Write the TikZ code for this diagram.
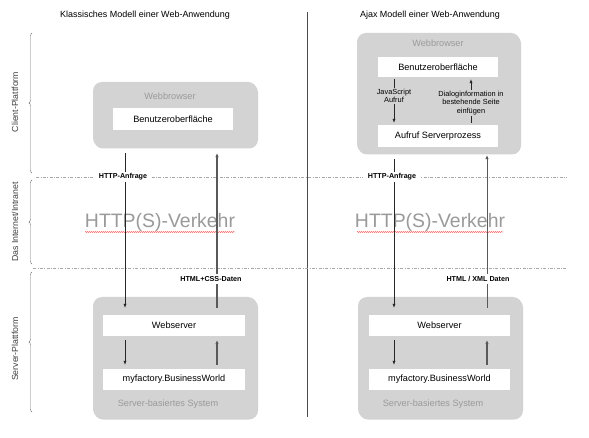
\documentclass[tikz,border=0pt]{standalone}
\usepackage{fontspec}
\setmainfont{Liberation Sans}
\usetikzlibrary{arrows.meta,shadows,decorations.pathreplacing,decorations.pathmorphing}
\definecolor{boxgray}{HTML}{D3D3D3}
\definecolor{txtgray}{HTML}{9A9A9A}
\definecolor{linegray}{HTML}{A8A8A8}
\tikzset{
  gbox/.style={draw=none,fill=boxgray,rounded corners=9bp,drop shadow={opacity=0.35,shadow xshift=1bp,shadow yshift=-1.5bp}},
  wbox/.style={fill=white,draw=none,font=\fontsize{9.2}{11}\selectfont,inner sep=0pt},
  graylbl/.style={text=txtgray,font=\fontsize{9.2}{11}\selectfont},
  smalllbl/.style={font=\fontsize{7.2}{8.5}\selectfont\bfseries,fill=white,inner sep=2bp,align=center},
  innerlbl/.style={font=\fontsize{7.4}{8.6}\selectfont,fill=boxgray,inner sep=1bp,align=center},
  arrdn/.style={draw=black!85,line width=0.6bp,-{Latex[length=4bp,width=3.2bp]}},
  arrup/.style={draw=black!65,line width=1.4bp,-{Latex[length=4bp,width=3.6bp]}},
  dashdot/.style={draw=linegray,line width=0.6bp,dash pattern=on 3bp off 1.5bp on 0.8bp off 1.5bp},
  brc/.style={draw=black!55,line width=0.4bp,decorate,decoration={brace,amplitude=3bp}},
  sidelbl/.style={rotate=90,font=\fontsize{8.8}{10}\selectfont,text=black!75},
  title/.style={font=\fontsize{9}{10}\selectfont},
  big/.style={text=txtgray,font=\fontsize{19.5}{22}\selectfont},
  wavy/.style={draw=red!80,line width=0.4bp,decorate,decoration={snake,amplitude=0.5bp,segment length=2bp}}
}
\begin{document}
\begin{tikzpicture}[x=1bp,y=-1bp]
\useasboundingbox (0,0) rectangle (589,438);
\fill[white] (0,0) rectangle (589,438);

% titles
\node[title] (t1) at (145,15) {Klassisches Modell einer Web-Anwendung};
\node[title] (t2) at (430,15) {Ajax Modell einer Web-Anwendung};

% separator
\coordinate (sepT) at (307,12);
\coordinate (sepB) at (307,417);
\draw[black!70,line width=0.7bp] (sepT) -- (sepB);

% dash-dot lines
\coordinate (d1a) at (36,177); \coordinate (d1b) at (567,177);
\coordinate (d2a) at (33,268); \coordinate (d2b) at (567,268);
\draw[dashdot] (d1a) -- (d1b);
\draw[dashdot] (d2a) -- (d2b);

% braces and side labels
\coordinate (b1a) at (32,173); \coordinate (b1b) at (32,33);
\coordinate (b2a) at (32,264); \coordinate (b2b) at (32,180);
\coordinate (b3a) at (32,412); \coordinate (b3b) at (32,272);
\draw[brc] (b1a) -- (b1b);
\draw[brc] (b2a) -- (b2b);
\draw[brc] (b3a) -- (b3b);
\node[sidelbl] (l1) at (15,102) {Client-Plattform};
\node[sidelbl] (l2) at (15,222) {Das Internet/Intranet};
\node[sidelbl] (l3) at (15,349) {Server-Plattform};

% big traffic text
\node[big] (h1) at (160,222) {HTTP(S)-Verkehr};
\node[big] (h2) at (430,222) {HTTP(S)-Verkehr};
\coordinate (w1a) at (85,232); \coordinate (w1b) at (235,232);
\coordinate (w2a) at (357,232); \coordinate (w2b) at (503,232);
\draw[wavy] (w1a) -- (w1b);
\draw[wavy] (w2a) -- (w2b);

% ===== left =====
\node[gbox,minimum width=164bp,minimum height=65bp] (wbL) at (175,114.5) {};
\node[graylbl] (wbLt) at (170,96) {Webbrowser};
\node[wbox,minimum width=120bp,minimum height=22bp] (benL) at (173,119) {Benutzeroberfläche};

\node[gbox,minimum width=164bp,minimum height=121bp] (srvL) at (175,357.5) {};
\node[wbox,minimum width=142bp,minimum height=21bp] (webL) at (174,325.5) {Webserver};
\node[wbox,minimum width=142bp,minimum height=21bp] (myfL) at (174,379.5) {myfactory.BusinessWorld};
\node[graylbl] (srvLt) at (168,404) {Server-basiertes System};

\coordinate (xL1) at (125,0);
\coordinate (xL2) at (217,0);
\draw[arrdn,shorten <=6bp,shorten >=7bp] (wbL.south -| xL1) -- (webL.north -| xL1);
\draw[arrup,shorten <=7bp,shorten >=6bp] (webL.north -| xL2) -- (wbL.south -| xL2);
\draw[arrdn,shorten <=4bp,shorten >=4bp] (webL.south -| xL1) -- (myfL.north -| xL1);
\draw[arrup,shorten <=4bp,shorten >=4bp] (myfL.north -| xL2) -- (webL.south -| xL2);
\node[smalllbl,inner xsep=4bp] (haL) at (123,177) {HTTP-Anfrage};
\node[smalllbl] (hcL) at (211,279) {HTML+CSS-Daten};

% ===== right =====
\node[gbox,minimum width=163bp,minimum height=120bp] (wbR) at (438.5,93) {};
\node[graylbl] (wbRt) at (438,43) {Webbrowser};
\node[wbox,minimum width=120bp,minimum height=20bp] (benR) at (438,67) {Benutzeroberfläche};
\node[wbox,minimum width=120bp,minimum height=22bp] (aufR) at (438,136) {Aufruf Serverprozess};

\node[gbox,minimum width=164bp,minimum height=121bp] (srvR) at (440,357.5) {};
\node[wbox,minimum width=141bp,minimum height=21bp] (webR) at (439.5,325.5) {Webserver};
\node[wbox,minimum width=141bp,minimum height=21bp] (myfR) at (439.5,379.5) {myfactory.BusinessWorld};
\node[graylbl] (srvRt) at (433,404) {Server-basiertes System};

\coordinate (xR1) at (394,0);
\coordinate (xR2) at (471,0);
\coordinate (xR3) at (487,0);
\draw[arrdn,shorten <=2bp,shorten >=2bp] (benR.south -| xR1) -- (aufR.north -| xR1);
\draw[arrdn,shorten <=2bp,shorten >=2bp] (aufR.north -| xR2) -- (benR.south -| xR2);
\node[innerlbl] (jsR) at (394,96) {JavaScript\\Aufruf};
\node[innerlbl] (diR) at (471,103) {Dialoginformation in\\bestehende Seite\\einfügen};

\draw[arrdn,shorten <=6bp,shorten >=7bp] (wbR.south -| xR1) -- (webR.north -| xR1);
\draw[arrup,line width=0.9bp,shorten <=7bp,shorten >=2bp] (webR.north -| xR3) -- (wbR.south -| xR3);
\draw[arrdn,shorten <=4bp,shorten >=4bp] (webR.south -| xR1) -- (myfR.north -| xR1);
\draw[arrup,shorten <=4bp,shorten >=4bp] (myfR.north -| xR3) -- (webR.south -| xR3);
\node[smalllbl,inner xsep=5bp] (haR) at (392,177) {HTTP-Anfrage};
\node[smalllbl] (hxR) at (478,279) {HTML / XML Daten};
\end{tikzpicture}
\end{document}
